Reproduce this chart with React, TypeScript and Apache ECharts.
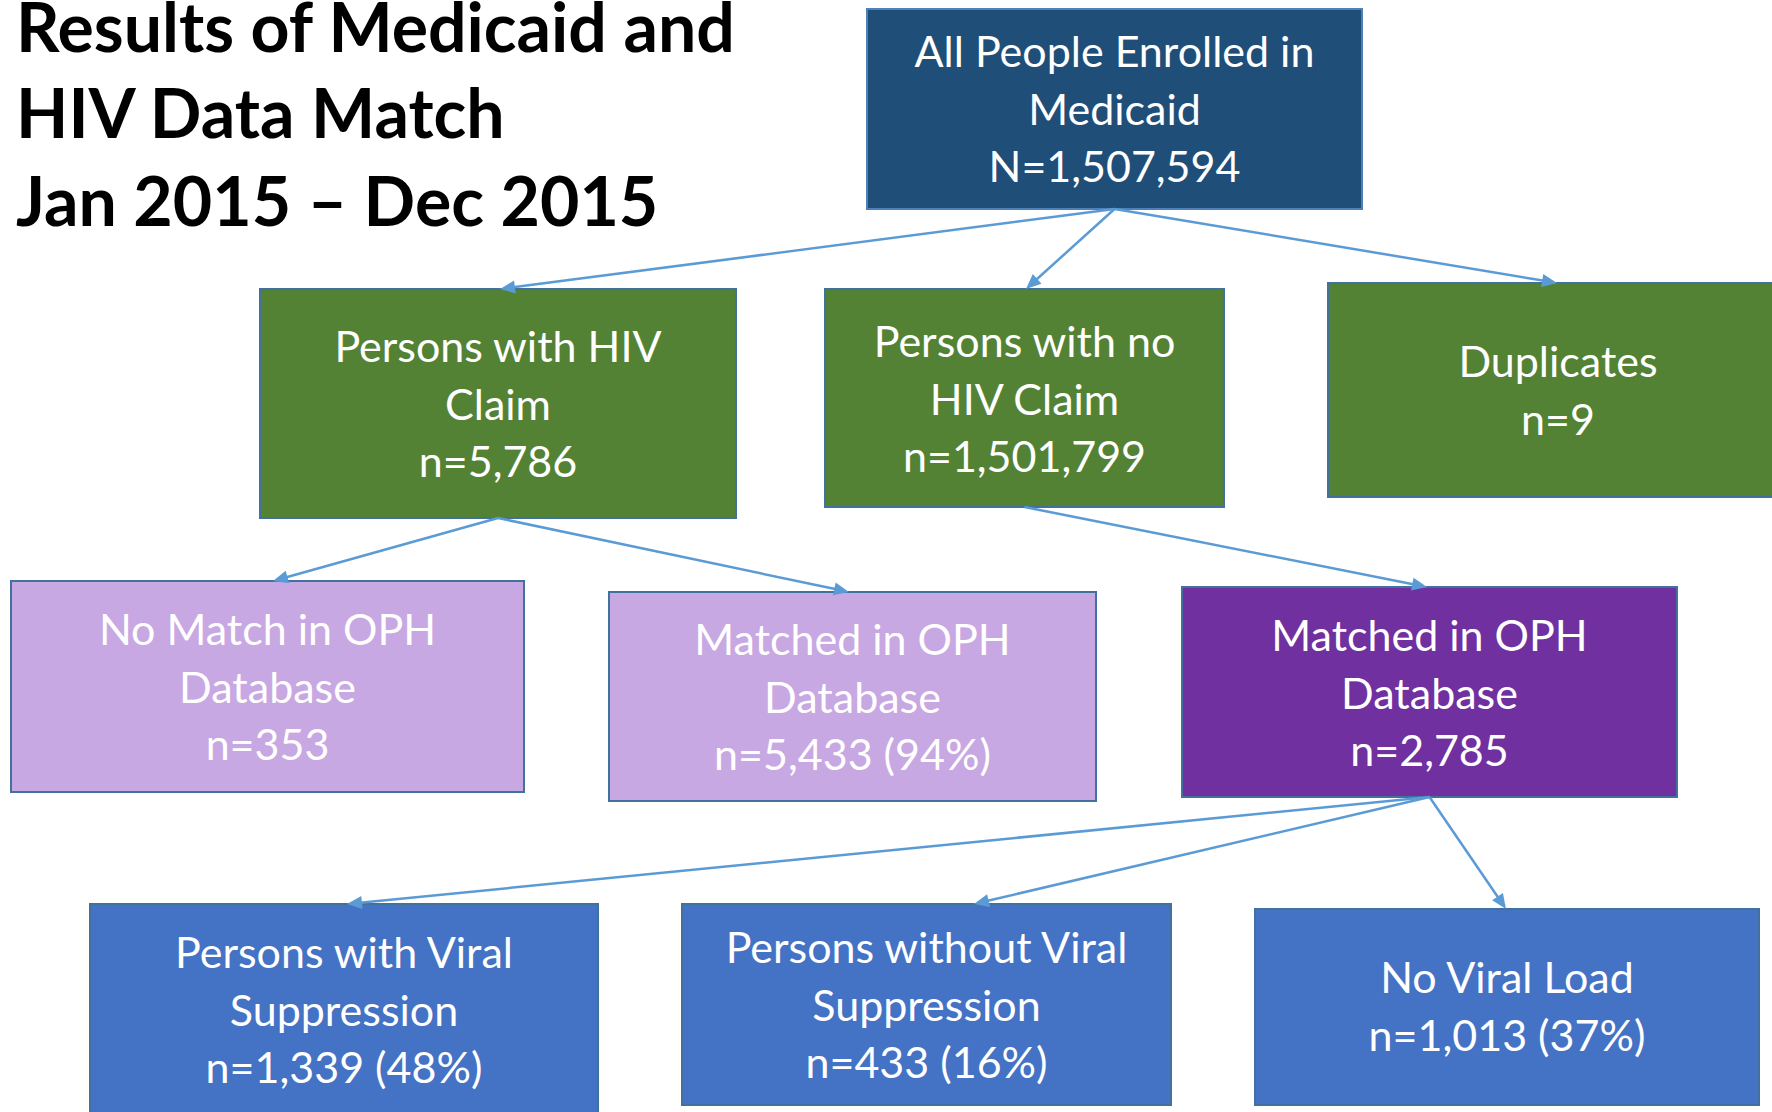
import React, { useEffect, useRef } from "react";
import * as echarts from "echarts";

// ---------- content ----------
const TITLE_LINES = ["Results of Medicaid and", "HIV Data Match", "Jan 2015 – Dec 2015"];

const NODE_LABELS: string[][] = [
  ["All People Enrolled in", "Medicaid"],
  ["Persons with HIV", "Claim"],
  ["Persons with no", "HIV Claim"],
  ["Duplicates"],
  ["No Match in OPH", "Database"],
  ["Matched in OPH", "Database"],
  ["Matched in OPH", "Database"],
  ["Persons with Viral", "Suppression"],
  ["Persons without Viral", "Suppression"],
  ["No Viral Load"],
];
const NODE_PREFIX = ["N", "n", "n", "n", "n", "n", "n", "n", "n", "n"];
const NODE_COUNTS = [1507594, 5786, 1501799, 9, 353, 5433, 2785, 1339, 433, 1013];
const NODE_PERCENTS: (number | null)[] = [null, null, null, null, null, 94, null, 48, 16, 37];

// edges: [from, to]
const EDGES: [number, number][] = [
  [0, 1], [0, 2], [0, 3],
  [1, 4], [1, 5],
  [2, 6],
  [6, 7], [6, 8], [6, 9],
];

// ---------- layout (chart units = px of the 1772x1112 canvas) ----------
const NODE_BOX: number[][] = [
  [867, 9, 1362, 209],
  [260, 289, 736, 518],
  [825, 289, 1224, 507],
  [1328, 283, 1788, 497],
  [11, 581, 524, 792],
  [609, 592, 1096, 801],
  [1182, 587, 1677, 797],
  [90, 904, 598, 1125],
  [682, 904, 1171, 1105],
  [1255, 909, 1759, 1105],
];
const NODE_FIRST_BASELINE = [67, 362, 357, 377, 645, 655, 651, 968, 963, 993];
const EDGE_TIP_X = [500, 1026, 1557, 273, 849, 1427, 347, 974, 1506];
const TITLE_BASELINES = [51, 137, 225];

// ---------- styles ----------
const NODE_FILL = [
  "#1F4E79", "#548235", "#548235", "#548235",
  "#C8A8E2", "#C8A8E2", "#7030A0",
  "#4472C4", "#4472C4", "#4472C4",
];
const NODE_STROKE = [
  "#5080B8", "#41719C", "#41719C", "#41719C",
  "#41719C", "#41719C", "#41719C",
  "#41719C", "#41719C", "#41719C",
];
const FONT_FAMILY = "Lato, 'Open Sans', sans-serif";
const BOX_FONT_SIZE = 43;
const LINE_STEP = 57.5;
const TITLE_FONT_SIZE = 68;
const ARROW_COLOR = "#5B9BD5";

const W = 1772;
const H = 1112;

function countText(i: number): string {
  let s = NODE_PREFIX[i] + "=" + NODE_COUNTS[i].toLocaleString("en-US");
  if (NODE_PERCENTS[i] != null) s += " (" + NODE_PERCENTS[i] + "%)";
  return s;
}

export default function App() {
  const ref = useRef<HTMLDivElement>(null);

  useEffect(() => {
    document.body.style.margin = "0";
    document.body.style.overflow = "hidden";
    if (!ref.current) return;
    const chart = echarts.init(ref.current, undefined, { renderer: "svg" });

    const boxData = NODE_BOX.map((b, i) => [b[0], b[1], b[2], b[3], i]);
    const edgeData = EDGES.map(([s, t], k) => {
      const sb = NODE_BOX[s];
      const tb = NODE_BOX[t];
      return [(sb[0] + sb[2]) / 2, sb[3], EDGE_TIP_X[k], tb[1]];
    });

    const option: any = {
      animation: false,
      backgroundColor: "#ffffff",
      grid: { left: 0, right: 0, top: 0, bottom: 0, containLabel: false },
      xAxis: { type: "value", min: 0, max: W, show: false },
      yAxis: { type: "value", min: 0, max: H, inverse: true, show: false },
      graphic: TITLE_LINES.map((t, i) => ({
        type: "text",
        x: 16,
        y: TITLE_BASELINES[i] - 0.38 * TITLE_FONT_SIZE,
        z: 100,
        style: {
          text: t,
          font: `bold ${TITLE_FONT_SIZE}px ${FONT_FAMILY}`,
          fill: "#000000",
          align: "left",
          textAlign: "left",
          verticalAlign: "middle",
          textVerticalAlign: "middle",
        },
      })),
      series: [
        {
          type: "custom",
          coordinateSystem: "cartesian2d",
          silent: true,
          z: 2,
          data: boxData,
          renderItem: (params: any, api: any) => {
            const i = api.value(4);
            const p0 = api.coord([api.value(0), api.value(1)]);
            const p1 = api.coord([api.value(2), api.value(3)]);
            const cx = (p0[0] + p1[0]) / 2;
            const lines = [...NODE_LABELS[i], countText(i)];
            const basePx = api.coord([0, NODE_FIRST_BASELINE[i]])[1];
            const children: any[] = [
              {
                type: "rect",
                shape: { x: p0[0], y: p0[1], width: p1[0] - p0[0], height: p1[1] - p0[1] },
                style: { fill: NODE_FILL[i], stroke: NODE_STROKE[i], lineWidth: 2 },
              },
            ];
            lines.forEach((t, k) => {
              children.push({
                type: "text",
                x: cx,
                y: basePx + k * LINE_STEP - 0.38 * BOX_FONT_SIZE,
                style: {
                  text: t,
                  font: `${BOX_FONT_SIZE}px ${FONT_FAMILY}`,
                  fill: "#ffffff",
                  align: "center",
                  textAlign: "center",
                  verticalAlign: "middle",
                  textVerticalAlign: "middle",
                },
              });
            });
            return { type: "group", children };
          },
        },
        {
          type: "custom",
          coordinateSystem: "cartesian2d",
          silent: true,
          z: 3,
          data: edgeData,
          renderItem: (params: any, api: any) => {
            const a = api.coord([api.value(0), api.value(1)]);
            const b = api.coord([api.value(2), api.value(3)]);
            const dx = b[0] - a[0];
            const dy = b[1] - a[1];
            const len = Math.sqrt(dx * dx + dy * dy);
            const ux = dx / len;
            const uy = dy / len;
            const headLen = 15;
            const headHalf = 6.5;
            const bx = b[0] - ux * headLen;
            const by = b[1] - uy * headLen;
            const px = -uy;
            const py = ux;
            return {
              type: "group",
              children: [
                {
                  type: "line",
                  shape: { x1: a[0], y1: a[1], x2: bx + ux * 2, y2: by + uy * 2 },
                  style: { stroke: ARROW_COLOR, lineWidth: 2.5 },
                },
                {
                  type: "polygon",
                  shape: {
                    points: [
                      [b[0], b[1]],
                      [bx + px * headHalf, by + py * headHalf],
                      [bx - px * headHalf, by - py * headHalf],
                    ],
                  },
                  style: { fill: ARROW_COLOR },
                },
              ],
            };
          },
        },
      ],
    };

    chart.setOption(option);
    return () => chart.dispose();
  }, []);

  return <div ref={ref} style={{ width: W, height: H }} />;
}
